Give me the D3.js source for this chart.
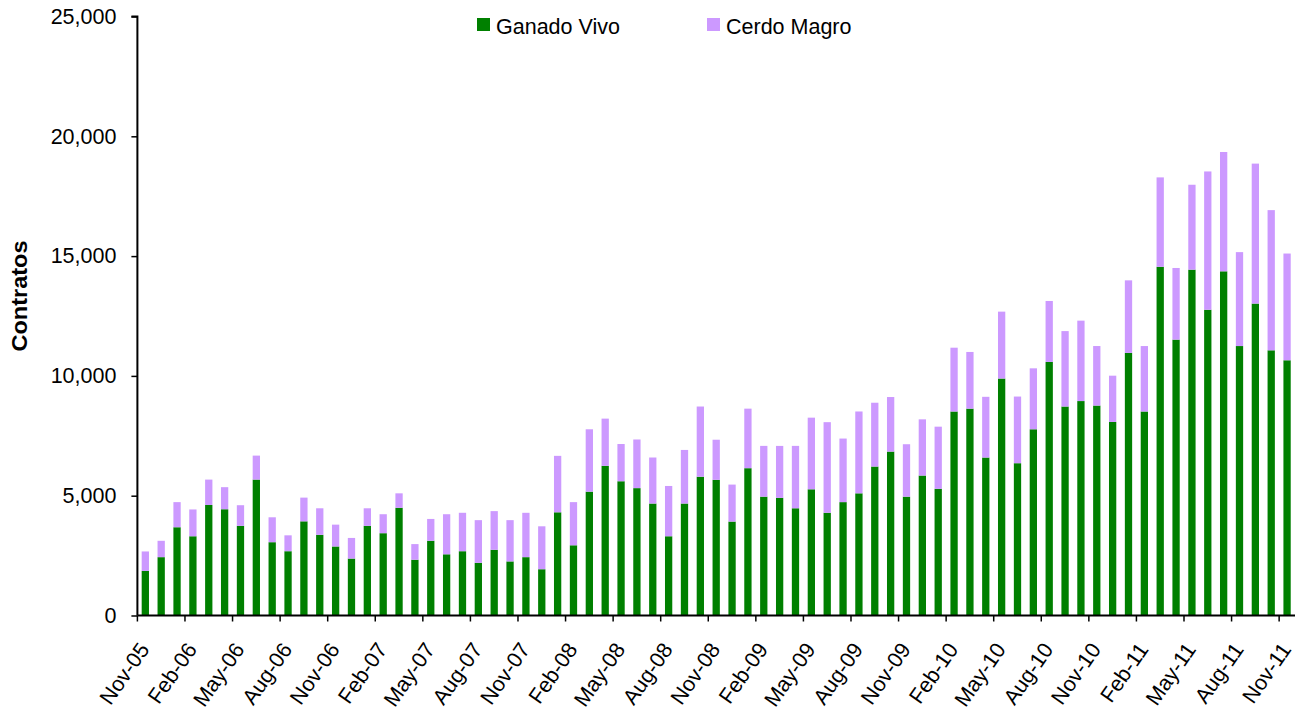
<!DOCTYPE html>
<html>
<head>
<meta charset="utf-8">
<script src="https://cdn.jsdelivr.net/npm/d3@7"></script>
<style>
  html, body { margin: 0; padding: 0; background: #fff; }
  svg { display: block; font-family: "Liberation Sans", Arial, sans-serif; }
</style>
</head>
<body>
<svg id="chart" width="1310" height="718"></svg>
<script>
const months = [
  "Nov-05","Dec-05","Jan-06","Feb-06","Mar-06","Apr-06","May-06","Jun-06","Jul-06","Aug-06","Sep-06","Oct-06",
  "Nov-06","Dec-06","Jan-07","Feb-07","Mar-07","Apr-07","May-07","Jun-07","Jul-07","Aug-07","Sep-07","Oct-07",
  "Nov-07","Dec-07","Jan-08","Feb-08","Mar-08","Apr-08","May-08","Jun-08","Jul-08","Aug-08","Sep-08","Oct-08",
  "Nov-08","Dec-08","Jan-09","Feb-09","Mar-09","Apr-09","May-09","Jun-09","Jul-09","Aug-09","Sep-09","Oct-09",
  "Nov-09","Dec-09","Jan-10","Feb-10","Mar-10","Apr-10","May-10","Jun-10","Jul-10","Aug-10","Sep-10","Oct-10",
  "Nov-10","Dec-10","Jan-11","Feb-11","Mar-11","Apr-11","May-11","Jun-11","Jul-11","Aug-11","Sep-11","Oct-11",
  "Nov-11"
];

const ganadoVivo = [
  1861, 2435, 3683, 3307, 4613, 4435, 3742, 5673, 3059, 2683, 3930, 3366,
  2881, 2376, 3742, 3435, 4495, 2327, 3119, 2554, 2683, 2198, 2742, 2257,
  2435, 1931, 4307, 2930, 5168, 6247, 5603, 5316, 4673, 3307, 4673, 5792,
  5663, 3920, 6148, 4960, 4910, 4475, 5267, 4287, 4732, 5099, 6217, 6841,
  4960, 5841, 5287, 8514, 8633, 6593, 9890, 6356, 7772, 10583, 8722, 8950,
  8762, 8078, 10959, 8514, 14553, 11514, 14434, 12761, 14365, 11246, 13019, 11068,
  10652
];

const cerdoMagro = [
  812, 683, 1049, 1119, 1059, 921, 861, 1000, 1040, 663, 990, 1109,
  911, 861, 733, 792, 604, 653, 911, 1673, 1604, 1782, 1614, 1723,
  1851, 1792, 2356, 1802, 2604, 1970, 1554, 2030, 1921, 2099, 2237, 2930,
  1673, 1544, 2485, 2119, 2168, 2604, 2990, 3782, 2653, 3416, 2663, 2277,
  2188, 2346, 2594, 2663, 2366, 2534, 2792, 2782, 2544, 2544, 3148, 3356,
  2485, 1931, 3029, 2732, 3732, 2990, 3544, 5772, 4980, 3920, 5841, 5851,
  4455
];

const seriesNames = ["Ganado Vivo", "Cerdo Magro"];
const seriesColors = ["#008000", "#CC99FF"];
const yTicks = [0, 5000, 10000, 15000, 20000, 25000];
const yTitle = "Contratos";

const table = months.map((m, i) => ({ month: m, "Ganado Vivo": ganadoVivo[i], "Cerdo Magro": cerdoMagro[i] }));

const svg = d3.select("#chart");
const plotLeft = 137.4, plotRight = 1295, plotTop = 16.5, plotBottom = 615.5;

const x = d3.scaleBand().domain(months).range([plotLeft, plotRight]).paddingInner(0.54).paddingOuter(0.27);
const y = d3.scaleLinear().domain([0, 25000]).range([plotBottom, plotTop]);

const layers = d3.stack().keys(seriesNames)(table);

svg.append("g").selectAll("g")
  .data(layers)
  .join("g")
  .attr("fill", (d, i) => seriesColors[i])
  .selectAll("rect")
  .data(d => d)
  .join("rect")
  .attr("x", d => x(d.data.month))
  .attr("width", x.bandwidth())
  .attr("y", d => y(d[1]))
  .attr("height", d => y(d[0]) - y(d[1]));

// Y axis
const yAxis = d3.axisLeft(y).tickValues(yTicks).tickSize(6).tickPadding(15)
  .tickFormat(d3.format(","));
const gy = svg.append("g").attr("transform", `translate(${plotLeft},0)`).call(yAxis);
gy.select(".domain").attr("stroke", "#000").attr("stroke-width", 2).attr("d", `M-6,${plotTop}H0V${plotBottom}`);
gy.selectAll(".tick line").attr("stroke", "#000").attr("stroke-width", 1.5);
gy.selectAll(".tick text").attr("font-size", 21.5).attr("fill", "#000")
  .attr("font-family", "Liberation Sans, Arial, sans-serif");

// X axis
const step = x.step();
const offset = (step - x.bandwidth()) / 2;
const labelMonths = months.filter((m, i) => i % 3 === 0);
const gx = svg.append("g");
gx.append("line").attr("x1", plotLeft).attr("x2", plotRight).attr("y1", plotBottom).attr("y2", plotBottom)
  .attr("stroke", "#000").attr("stroke-width", 2);
gx.selectAll("line.tick").data(labelMonths).join("line").attr("class", "tick")
  .attr("x1", d => x(d) - offset).attr("x2", d => x(d) - offset)
  .attr("y1", plotBottom).attr("y2", plotBottom + 6)
  .attr("stroke", "#000").attr("stroke-width", 1.5);
gx.selectAll("text").data(labelMonths).join("text")
  .attr("transform", d => `translate(${x(d) + x.bandwidth() / 2 + 5},${plotBottom + 34}) rotate(-55)`)
  .attr("text-anchor", "end")
  .attr("font-size", 21.5)
  .attr("fill", "#000")
  .text(d => d);

// Y title
svg.append("text")
  .attr("transform", `translate(26.5,296) rotate(-90)`)
  .attr("text-anchor", "middle")
  .attr("font-size", 22)
  .attr("font-weight", "bold")
  .attr("fill", "#000")
  .attr("textLength", 111)
  .attr("lengthAdjust", "spacingAndGlyphs")
  .text(yTitle);

// Legend
const legendPos = [477, 707];
const lg = svg.append("g").selectAll("g").data(seriesNames).join("g")
  .attr("transform", (d, i) => `translate(${legendPos[i]},0)`);
lg.append("rect").attr("x", 0).attr("y", 18).attr("width", 13).attr("height", 13)
  .attr("fill", (d, i) => seriesColors[i]);
lg.append("text").attr("x", 19).attr("y", 34).attr("font-size", 21.5).attr("fill", "#000").text(d => d);
</script>
</body>
</html>
